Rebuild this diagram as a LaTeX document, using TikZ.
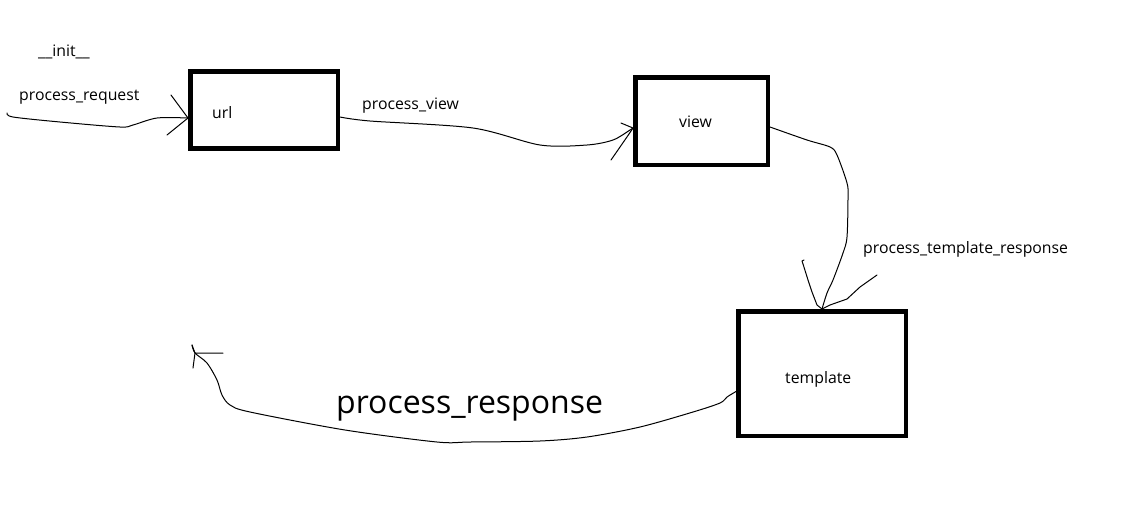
\documentclass[tikz,border=0pt]{standalone}
\usepackage{fontspec}
\setmainfont{Open Sans}
\usetikzlibrary{positioning}
\tikzset{stage node/.style={rectangle, draw=black, line width=4.5pt, inner sep=0pt}}
\tikzset{stage text/.style={anchor=base west, inner sep=0pt, text=black,
    font=\fontsize{15.8}{18}\selectfont}}
\tikzset{big text/.style={stage text, font=\fontsize{32}{36}\selectfont}}
\tikzset{hook edge/.style={draw=black, line width=1pt, line join=round, line cap=round}}

\begin{document}
\begin{tikzpicture}
  [x=1pt, y=-1pt]
  \useasboundingbox (0,0) rectangle (1129,520);

  \node [stage node, minimum width=147.5pt, minimum height=77pt]  (url)      at (264,110)   {};
  \node [stage node, minimum width=132.5pt, minimum height=87.5pt] (view)     at (701.5,121) {};
  \node [stage node, minimum width=167.5pt, minimum height=124.5pt] (template) at (822,373.5) {};

  \node [stage text] (urltext)      at (212,118) {url};
  \node [stage text] (viewtext)     at (679,127) {view};
  \node [stage text] (templatetext) at (785,383) {template};

  \node [stage text] (initlabel)     at (38,56)   {\_\_init\_\_};
  \node [stage text] (requestlabel)  at (19,100)  {process\_request};
  \node [stage text] (viewlabel)     at (362,109) {process\_view};
  \node [stage text] (templatelabel) at (863,253) {process\_template\_response};
  \node [big text]   (responselabel) at (336,413) {process\_response};

  \coordinate (reqstart) at (7,113);
  \coordinate (reqtip)   at ([yshift=-8pt]url.west);
  \coordinate (viewtip)  at ([yshift=-7pt]view.west);
  \coordinate (temptip)  at (template.north);
  \coordinate (respend)  at (192,345);

  % request -> url
  \draw [hook edge] plot [smooth, tension=0.5] coordinates
    {(reqstart) (13,117) (60,122) (120,127) (133,125) (157,118) (reqtip)};
  \draw [hook edge] (reqtip) -- ++(-17,-23) (reqtip) -- ++(-21,17);

  % url -> view
  \draw [hook edge] plot [smooth, tension=0.5] coordinates
    {([yshift=-7pt]url.east) (370,121) (473,128) (540,145) (587,145) (613,140) (630,130) (viewtip)};
  \draw [hook edge] (viewtip) -- ++(-12,-5) (viewtip) -- ++(-4,6) -- ++(-18,26);

  % view -> template
  \draw [hook edge] plot [smooth, tension=0.5] coordinates
    {([yshift=-6pt]view.east) (807,140) (830,147) (837,155) (847,183) (848,197) (847,237)
     (843,253) (833,280) (827,293) (temptip)};
  \draw [hook edge] (temptip) -- ++(-5,-4) -- ++(-5,-13) -- ++(-4,-12) -- ++(-5,-16) -- ++(-1,-3) -- ++(2,-1)
                    (temptip) -- ++(8,-4) -- ++(17,-6) -- ++(13,-12) -- ++(17,-12);

  % template -> out
  \draw [hook edge] plot [smooth, tension=0.5] coordinates
    {([yshift=-18pt]template.west) (727,397) (720,403) (693,412) (640,427) (587,437) (540,441)
     (470,442) (437,442) (345,430) (250,412) (230,405) (222,395) (217,380)
     (207,363) (195,353) (respend)};
  \draw [hook edge] (respend) ++(3,8) -- ++(28,0)
                    (respend) -- ++(3,8) -- ++(-2,15);
\end{tikzpicture}
\end{document}
